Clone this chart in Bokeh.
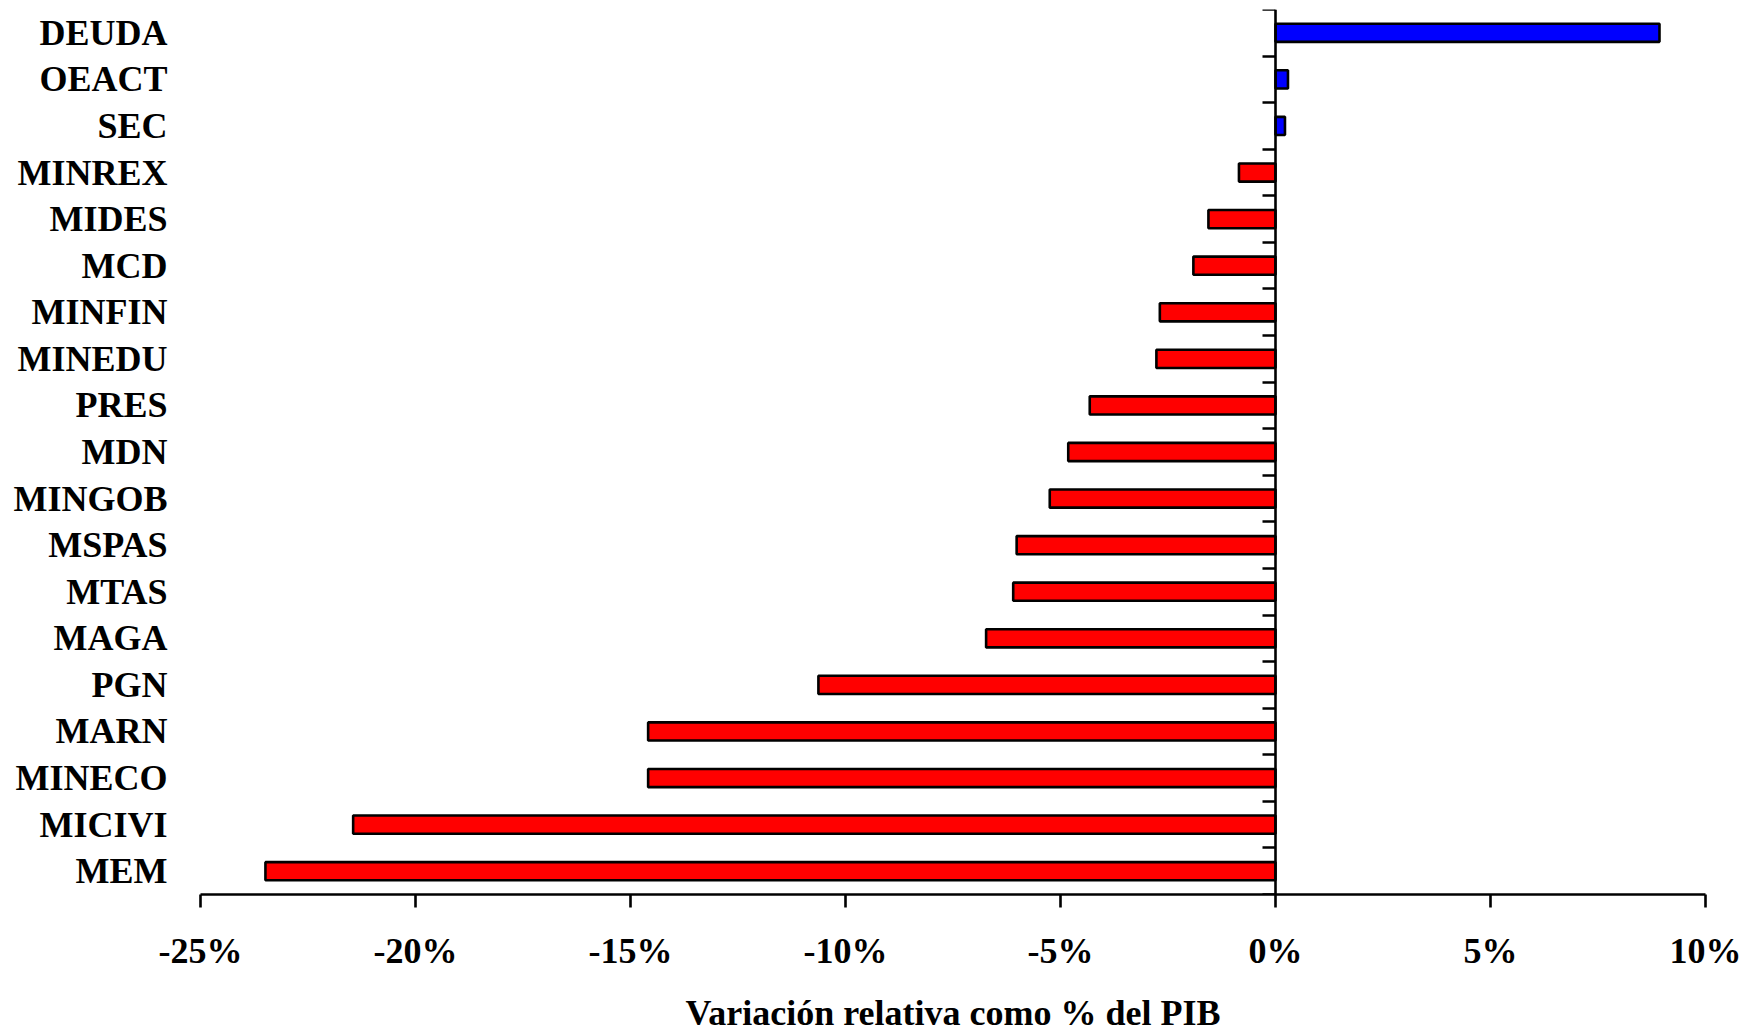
from bokeh.plotting import figure
from bokeh.models import Range1d, LinearAxis, FixedTicker, PrintfTickFormatter, ColumnDataSource
from bokeh.embed import file_html
from bokeh.resources import INLINE

# ---- data (top to bottom as in the reference) ----
categories = ["DEUDA", "OEACT", "SEC", "MINREX", "MIDES", "MCD", "MINFIN", "MINEDU",
              "PRES", "MDN", "MINGOB", "MSPAS", "MTAS", "MAGA", "PGN", "MARN",
              "MINECO", "MICIVI", "MEM"]
values = [8.93, 0.29, 0.22, -0.85, -1.56, -1.91, -2.69, -2.77,
          -4.32, -4.82, -5.25, -6.02, -6.10, -6.73, -10.63, -14.59,
          -14.59, -21.45, -23.49]
x_ticks = [-25, -20, -15, -10, -5, 0, 5, 10]
x_label = "Variación relativa como % del PIB"

FONT = "Liberation Serif"
n = len(categories)
ypos = [n - 0.5 - i for i in range(n)]
colors = ["#0000FF" if v >= 0 else "#FF0000" for v in values]

src = ColumnDataSource(dict(y=ypos, v=values, c=colors, cat=categories))

p = figure(width=1745, height=1036,
           x_range=Range1d(-25, 10), y_range=Range1d(0, n),
           x_axis_type=None, y_axis_type=None,
           output_backend="svg", toolbar_location=None,
           min_border_left=200, min_border_right=40,
           min_border_top=9, min_border_bottom=142)
p.grid.visible = False
p.outline_line_color = None
p.background_fill_color = "white"
p.border_fill_color = "white"

p.hbar(y="y", left=0, right="v", height=0.39, fill_color="c",
       line_color="black", line_width=2.6, source=src)

# bottom x axis
xaxis = LinearAxis(ticker=FixedTicker(ticks=x_ticks),
                   formatter=PrintfTickFormatter(format="%d%%"),
                   axis_label=x_label)
xaxis.axis_line_width = 2.6
xaxis.axis_line_color = "black"
xaxis.major_tick_line_width = 2.6
xaxis.major_tick_out = 13
xaxis.major_tick_in = 0
xaxis.minor_tick_line_color = None
xaxis.major_label_text_font = FONT
xaxis.major_label_text_font_style = "bold"
xaxis.major_label_text_font_size = "36px"
xaxis.major_label_text_color = "black"
xaxis.major_label_standoff = 23
xaxis.axis_label_text_font = FONT
xaxis.axis_label_text_font_style = "bold"
xaxis.axis_label_text_font_size = "36px"
xaxis.axis_label_text_color = "black"
xaxis.axis_label_standoff = 19
p.add_layout(xaxis, "below")

# category labels on the left
yl = LinearAxis(ticker=FixedTicker(ticks=ypos),
                major_label_overrides={y: c for y, c in zip(ypos, categories)})
yl.axis_line_color = None
yl.major_tick_line_color = None
yl.minor_tick_line_color = None
yl.major_label_standoff = 27
yl.major_label_text_font = FONT
yl.major_label_text_font_style = "bold"
yl.major_label_text_font_size = "36px"
yl.major_label_text_color = "black"
p.add_layout(yl, "left")

# vertical axis line at x = 0 with ticks between categories
spine = LinearAxis(ticker=FixedTicker(ticks=list(range(n + 1))), fixed_location=0)
spine.axis_line_width = 2.6
spine.axis_line_color = "black"
spine.major_tick_line_width = 2.6
spine.major_tick_in = 13
spine.major_tick_out = 0
spine.minor_tick_line_color = None
spine.major_label_text_font_size = "0px"
spine.major_label_text_alpha = 0
p.add_layout(spine, "right")

open("out.html", "w").write(file_html(p, INLINE))
